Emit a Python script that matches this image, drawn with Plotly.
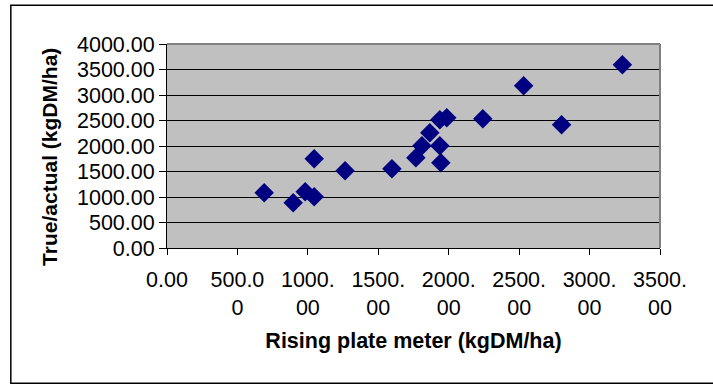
import plotly.graph_objects as go

# Data
rising_plate = [690, 896, 981, 1045, 1045, 1264, 1597, 1767, 1810, 1866,
                1937, 1986, 1937, 1944, 2242, 2532, 2801, 3233]
true_actual = [1084, 888, 1104, 1006, 1751, 1516, 1555, 1771, 2006, 2261,
               2516, 2555, 2006, 1673, 2535, 3182, 2418, 3594]

x_tickvals = [0, 500, 1000, 1500, 2000, 2500, 3000, 3500]
x_ticktext = ["0.00", "500.0<br>0", "1000.<br>00", "1500.<br>00", "2000.<br>00",
              "2500.<br>00", "3000.<br>00", "3500.<br>00"]
y_tickvals = [0, 500, 1000, 1500, 2000, 2500, 3000, 3500, 4000]
y_ticktext = ["0.00", "500.00", "1000.00", "1500.00", "2000.00", "2500.00",
              "3000.00", "3500.00", "4000.00"]

x_title = "Rising plate meter (kgDM/ha)"
y_title = "True/actual (kgDM/ha)"

FONT = "Liberation Sans, Arial, sans-serif"

fig = go.Figure()
fig.add_trace(go.Scatter(
    x=rising_plate, y=true_actual, mode="markers",
    marker=dict(symbol="diamond", size=15, color="#000080",
                line=dict(width=0)),
    showlegend=False, hoverinfo="x+y",
))

fig.update_layout(
    width=713, height=385,
    margin=dict(l=166.5, r=52.5, t=44.3, b=136.7, autoexpand=False),
    paper_bgcolor="white",
    plot_bgcolor="#C0C0C0",
    font=dict(family=FONT, size=21.5, color="black"),
    xaxis=dict(
        range=[0, 3500], tickvals=x_tickvals, ticktext=x_ticktext,
        showgrid=False, zeroline=False,
        showline=True, linecolor="black", linewidth=1,
        ticks="outside", ticklen=6, tickcolor="black", tickwidth=1,
        ticklabelstandoff=6,
        title=dict(text="<b>" + x_title + "</b>",
                   font=dict(family=FONT, size=21.5), standoff=14),
        fixedrange=True, automargin=False,
    ),
    yaxis=dict(
        range=[0, 4000], tickvals=y_tickvals, ticktext=y_ticktext,
        showgrid=True, gridcolor="black", gridwidth=1, zeroline=False,
        showline=True, linecolor="black", linewidth=1,
        ticks="outside", ticklen=7, tickcolor="black", tickwidth=1,
        fixedrange=True, automargin=False,
    ),
    annotations=[dict(
        text="<b>" + y_title + "</b>", textangle=-90,
        xref="paper", yref="paper", x=-0.238, y=0.445,
        xanchor="center", yanchor="middle", showarrow=False,
        font=dict(family=FONT, size=21, color="black"),
    )],
    shapes=[
        # plot-area border (gray top and right)
        dict(type="line", xref="paper", yref="paper", x0=0, x1=1, y0=1, y1=1,
             line=dict(color="#808080", width=2)),
        dict(type="line", xref="paper", yref="paper", x0=1, x1=1, y0=0, y1=1,
             line=dict(color="#808080", width=2)),
        # outer chart frame
        dict(type="rect", xref="paper", yref="paper",
             x0=(10 - 166.5) / 494, x1=(720 - 166.5) / 494,
             y0=(248.3 - 383.5) / 204, y1=(248.3 - 5.5) / 204,
             line=dict(color="black", width=1.5), layer="below"),
    ],
)

fig.write_html("out.html")
